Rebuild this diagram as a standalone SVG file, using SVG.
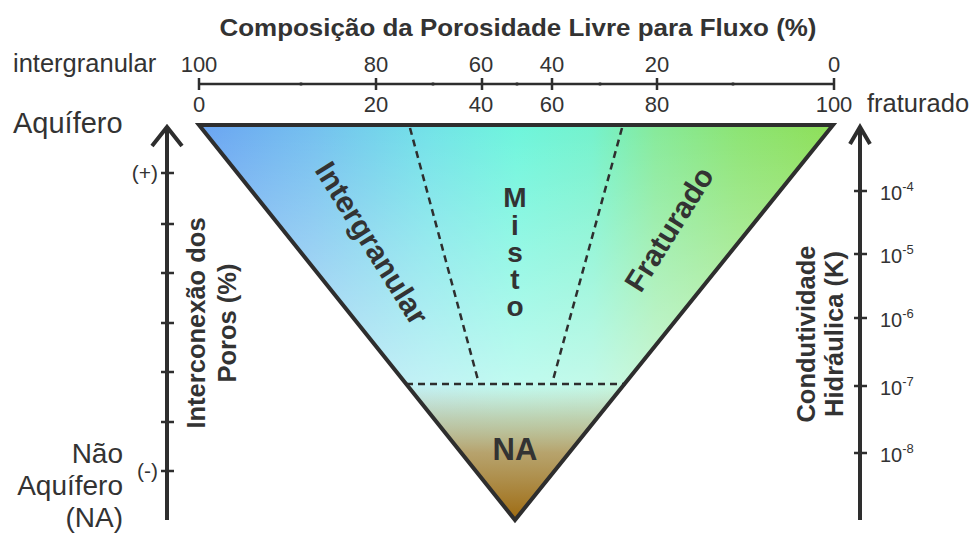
<svg xmlns="http://www.w3.org/2000/svg" width="973" height="534" viewBox="0 0 973 534">
<style>
text{font-family:"Liberation Sans",Arial,Helvetica,sans-serif;fill:#333}
.b{font-weight:bold}
.ax{stroke:#2e2e2e;stroke-width:4;fill:none}
.tk{stroke:#2e2e2e;stroke-width:2.5;fill:none}
.dash{stroke:#2e2e2e;stroke-width:2.5;stroke-dasharray:7 5;fill:none}
.num{font-size:22px;text-anchor:middle}
.k{font-size:20px}
.pm{font-size:21px}
.sup{font-size:13px}
.mi{font-size:28px;font-weight:bold;text-anchor:middle}
</style>
<defs>
<clipPath id="tri"><polygon points="199,125 833,125 515,520"/></clipPath>
<linearGradient id="gH" x1="199" y1="0" x2="833" y2="0" gradientUnits="userSpaceOnUse">
<stop offset="0" stop-color="#6aa4f2"/>
<stop offset="0.18" stop-color="#74c0ef"/>
<stop offset="0.36" stop-color="#72e2e8"/>
<stop offset="0.5" stop-color="#6ef5dc"/>
<stop offset="0.62" stop-color="#74f2cc"/>
<stop offset="0.72" stop-color="#86ea9a"/>
<stop offset="0.85" stop-color="#8ce474"/>
<stop offset="1" stop-color="#8edf58"/>
</linearGradient>
<linearGradient id="gW" x1="0" y1="125" x2="0" y2="400" gradientUnits="userSpaceOnUse">
<stop offset="0" stop-color="#ffffff" stop-opacity="0"/>
<stop offset="1" stop-color="#ffffff" stop-opacity="0.6"/>
</linearGradient>
<linearGradient id="gB" x1="0" y1="385" x2="0" y2="520" gradientUnits="userSpaceOnUse">
<stop offset="0" stop-color="#b0a878" stop-opacity="0"/>
<stop offset="0.25" stop-color="#b4a670" stop-opacity="0.5"/>
<stop offset="0.5" stop-color="#b49456" stop-opacity="0.85"/>
<stop offset="1" stop-color="#9e6a10" stop-opacity="1"/>
</linearGradient>
</defs>

<g id="title">
<text class="b" x="518" y="36" font-size="24" text-anchor="middle" textLength="597" lengthAdjust="spacingAndGlyphs">Composição da Porosidade Livre para Fluxo (%)</text>
</g>

<g id="top-scale">
<text x="13" y="72" font-size="25.5">intergranular</text>
<text x="867" y="112" font-size="25.5">fraturado</text>
<line class="tk" x1="199" y1="84" x2="834" y2="84"/>
<path class="tk" d="M199,78V90M376,78V90M482,78V90M552,78V90M657,78V90M834,78V90"/>
<path class="tk" d="M301,82.5V85.5M433,82.5V85.5M517,82.5V85.5M600,82.5V85.5M733,82.5V85.5"/>
<text class="num" x="199" y="72">100</text>
<text class="num" x="376" y="72">80</text>
<text class="num" x="481" y="72">60</text>
<text class="num" x="552" y="72">40</text>
<text class="num" x="657" y="72">20</text>
<text class="num" x="834" y="72">0</text>
<text class="num" x="199" y="112">0</text>
<text class="num" x="376" y="112">20</text>
<text class="num" x="481" y="112">40</text>
<text class="num" x="552" y="112">60</text>
<text class="num" x="657" y="112">80</text>
<text class="num" x="834" y="112">100</text>
</g>

<g id="triangle">
<g clip-path="url(#tri)">
<rect x="199" y="125" width="634" height="395" fill="url(#gH)"/>
<rect x="199" y="125" width="634" height="395" fill="url(#gW)"/>
<rect x="199" y="380" width="634" height="140" fill="url(#gB)"/>
</g>
<path class="dash" d="M410,128L478,380M622,128L553,380M406,384H626"/>
<polygon points="199,125 833,125 515,520" fill="none" stroke="#2e2e2e" stroke-width="4"/>
</g>

<g id="intergranular">
<text class="b" font-size="30" text-anchor="middle" transform="translate(372,243) rotate(58)" dy="0.35em">Intergranular</text>
</g>
<g id="misto">
<text class="mi"><tspan x="515" y="207">M</tspan><tspan x="515" y="235">i</tspan><tspan x="515" y="262">s</tspan><tspan x="515" y="289">t</tspan><tspan x="515" y="316">o</tspan></text>
</g>
<g id="fraturado">
<text class="b" font-size="30" text-anchor="middle" transform="translate(669,229) rotate(-58)" dy="0.35em">Fraturado</text>
</g>
<g id="na">
<text class="b" font-size="31" text-anchor="middle" x="515" y="460">NA</text>
</g>

<g id="left-axis">
<text x="13" y="133" font-size="29">Aquífero</text>
<text x="123" y="463" font-size="28" text-anchor="end">Não</text>
<text x="123" y="495" font-size="28" text-anchor="end">Aquífero</text>
<text x="123" y="527" font-size="28" text-anchor="end">(NA)</text>
<line class="ax" x1="167" y1="128" x2="167" y2="520"/>
<path class="ax" d="M152,146L167,127L182,146" stroke-linejoin="miter"/>
<path class="tk" d="M161,173H174M161,224H174M161,273H174M161,323H174M161,372H174M161,422H174M161,471H174"/>
<text class="pm" x="158" y="180" text-anchor="end">(+)</text>
<text class="pm" x="158" y="478" text-anchor="end">(-)</text>
<text class="b" font-size="25.5" text-anchor="middle" transform="translate(205,323) rotate(-90)">Interconexão dos</text>
<text class="b" font-size="25.5" text-anchor="middle" transform="translate(236,323) rotate(-90)">Poros (%)</text>
</g>

<g id="right-axis">
<line class="ax" x1="860" y1="128" x2="860" y2="520"/>
<path class="ax" d="M850,144L860,127L870,144" stroke-linejoin="miter"/>
<path class="tk" d="M854,191H867M854,254H867M854,318H867M854,386H867M854,453H867"/>
<text class="k" x="880" y="200">10<tspan class="sup" dy="-9">-4</tspan></text>
<text class="k" x="880" y="263">10<tspan class="sup" dy="-9">-5</tspan></text>
<text class="k" x="880" y="327">10<tspan class="sup" dy="-9">-6</tspan></text>
<text class="k" x="880" y="395">10<tspan class="sup" dy="-9">-7</tspan></text>
<text class="k" x="880" y="462">10<tspan class="sup" dy="-9">-8</tspan></text>
<text class="b" font-size="25.5" text-anchor="middle" transform="translate(815,334) rotate(-90)">Condutividade</text>
<text class="b" font-size="25.5" text-anchor="middle" transform="translate(843,334) rotate(-90)">Hidráulica (K)</text>
</g>
</svg>
